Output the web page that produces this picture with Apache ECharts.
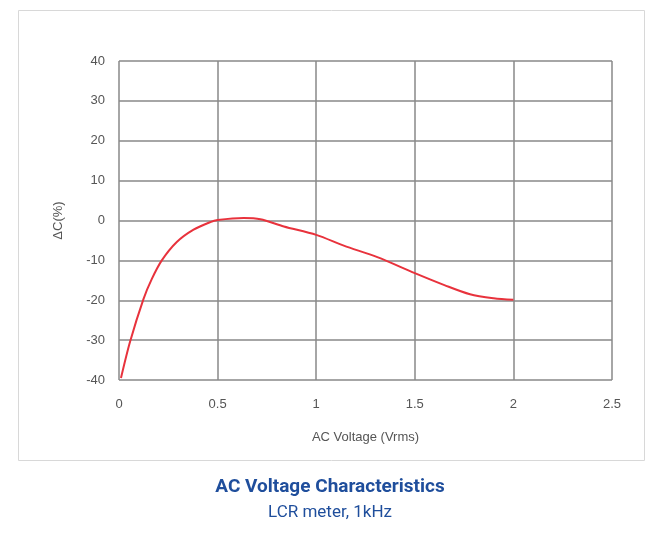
<!DOCTYPE html>
<html>
<head>
<meta charset="utf-8">
<script src="https://cdn.jsdelivr.net/npm/echarts@6/dist/echarts.min.js"></script>
<style>html,body{margin:0;padding:0;background:#fff}#main{width:660px;height:547px}</style>
</head>
<body>
<div id="main"></div>
<script>
// data
var voltage = [0.01, 0.056, 0.124, 0.166, 0.217, 0.293, 0.378, 0.463, 0.5, 0.632, 0.717, 0.836, 1.0, 1.14, 1.31, 1.5, 1.65, 1.78, 1.9, 2.0];
var deltaC = [-39.5, -30.4, -19.7, -14.7, -10, -5.4, -2.3, -0.4, 0.1, 0.6, 0.3, -1.5, -3.6, -6.3, -9.2, -13.2, -16.2, -18.5, -19.5, -19.9];

var points = voltage.map(function (v, i) { return [v, deltaC[i]]; });

var chart = echarts.init(document.getElementById('main'));
chart.setOption({
  backgroundColor: '#fff',
  animation: false,
  graphic: [{
    type: 'rect', left: 18, top: 10, z: -1,
    shape: { width: 626, height: 450 },
    style: { fill: '#fff', stroke: '#d8d8d8', lineWidth: 1 }
  }],
  title: {
    text: 'AC Voltage Characteristics',
    subtext: 'LCR meter, 1kHz',
    left: 'center', top: 473, itemGap: 7,
    textStyle: { color: '#1f4e9c', fontSize: 19, fontWeight: 'bold', fontFamily: 'Roboto, Arial' },
    subtextStyle: { color: '#1f4e9c', fontSize: 17, fontFamily: 'Roboto, Arial' }
  },
  grid: { left: 119, right: 48, top: 61, bottom: 167 },
  xAxis: {
    type: 'value', min: 0, max: 2.5, interval: 0.5,
    name: 'AC Voltage (Vrms)', nameLocation: 'middle', nameGap: 51,
    nameTextStyle: { color: '#555', fontSize: 13 },
    axisLine: { show: false }, axisTick: { show: false },
    axisLabel: { color: '#555', fontSize: 13, margin: 18 },
    splitLine: { lineStyle: { color: '#888', width: 1.5 } }
  },
  yAxis: {
    type: 'value', min: -40, max: 40, interval: 10,
    name: 'ΔC(%)', nameLocation: 'middle', nameGap: 54,
    nameTextStyle: { color: '#555', fontSize: 13 },
    axisLine: { show: false }, axisTick: { show: false },
    axisLabel: { color: '#555', fontSize: 13, margin: 14 },
    splitLine: { lineStyle: { color: '#888', width: 1.5 } }
  },
  series: [{
    type: 'line', data: points, smooth: 0.3, showSymbol: false,
    lineStyle: { color: '#e8323c', width: 2 }
  }]
});
</script>
</body>
</html>
